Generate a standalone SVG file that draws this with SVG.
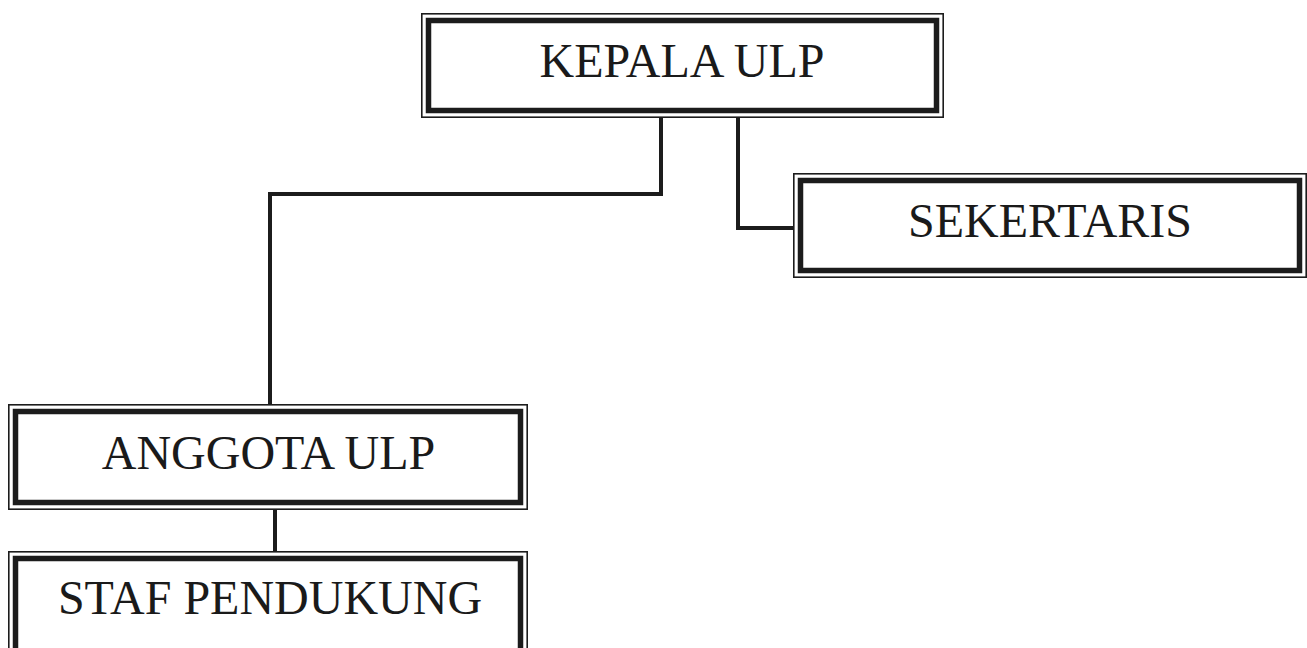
<svg xmlns="http://www.w3.org/2000/svg" width="1307" height="648" viewBox="0 0 1307 648">
<style>
.outer{fill:#ffffff;stroke:#1c1c1c;stroke-width:1.6}
.inner{fill:none;stroke:#1c1c1c;stroke-width:5.5}
.lbl{font-family:"Liberation Serif","Times New Roman",serif;font-size:48px;fill:#1a1a1a;text-anchor:middle}
.conn{fill:none;stroke:#1c1c1c;stroke-width:4;stroke-linejoin:miter;stroke-linecap:square}
</style>
<rect width="1307" height="648" fill="#ffffff"/>
<g id="connectors">
<path class="conn" d="M661 118 V194 H270 V404"/>
<path class="conn" d="M738 118 V228 H793"/>
<path class="conn" d="M275 510 V551"/>
</g>
<g id="kepala">
<rect class="outer" x="421.8" y="13.8" width="521.4" height="103.4"/>
<rect class="inner" x="428.5" y="20.5" width="508" height="90"/>
<text class="lbl" x="682" y="77">KEPALA ULP</text>
</g>
<g id="sekertaris">
<rect class="outer" x="793.8" y="173.8" width="512.4" height="103.4"/>
<rect class="inner" x="800.5" y="180.5" width="499" height="90"/>
<text class="lbl" x="1050" y="237">SEKERTARIS</text>
</g>
<g id="anggota">
<rect class="outer" x="8.8" y="404.8" width="518.4" height="104.4"/>
<rect class="inner" x="15.5" y="411.5" width="505" height="91"/>
<text class="lbl" x="268.5" y="469">ANGGOTA ULP</text>
</g>
<g id="staf">
<rect class="outer" x="8.8" y="551.8" width="518.4" height="110"/>
<rect class="inner" x="15.5" y="558.5" width="505" height="97"/>
<text class="lbl" x="270" y="614">STAF PENDUKUNG</text>
</g>
</svg>
